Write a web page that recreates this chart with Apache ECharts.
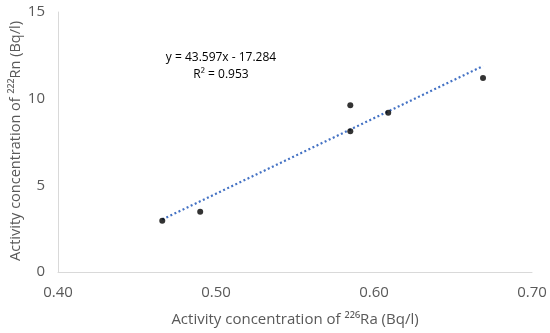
<!DOCTYPE html>
<html><head><meta charset="utf-8">
<script src="https://cdn.jsdelivr.net/npm/echarts@6/dist/echarts.min.js"></script>
<style>html,body{margin:0;padding:0;background:#fff}#c{width:550px;height:333px}</style>
</head><body><div id="c"></div>
<script>
var raValues = [0.466, 0.490, 0.585, 0.585, 0.609, 0.669];
var rnValues = [2.95, 3.48, 9.62, 8.12, 9.19, 11.19];
var trendSlope = 43.597;
var trendIntercept = -17.284;
var xTicks = [0.40, 0.50, 0.60, 0.70];
var yTicks = [0, 5, 10, 15];

var pts = raValues.map(function(x, i){ return [x, rnValues[i]]; });
var xmin = Math.min.apply(null, raValues), xmax = Math.max.apply(null, raValues);
var trend = [[xmin, trendSlope*xmin + trendIntercept], [xmax, trendSlope*xmax + trendIntercept]];
var font = "'Open Sans', 'Liberation Sans', sans-serif";
var chart = echarts.init(document.getElementById('c'));
chart.setOption({
  animation: false,
  textStyle: {fontFamily: font},
  grid: {left: 58, right: 18, top: 12, bottom: 61, containLabel: false, outerBoundsMode: 'none'},
  xAxis: {
    type: 'value', min: xTicks[0], max: xTicks[xTicks.length-1], interval: 0.1,
    axisLine: {lineStyle: {color: '#d9d9d9', width: 1}},
    axisTick: {show: false}, splitLine: {show: false},
    axisLabel: {color: '#595959', fontSize: 15, margin: 13, formatter: function(v){return v.toFixed(2);}},
    name: 'Activity concentration of \u00B2\u00B2\u2076Ra (Bq/l)', nameLocation: 'middle', nameGap: 40,
    nameTextStyle: {color: '#595959', fontSize: 15}
  },
  yAxis: {
    type: 'value', min: yTicks[0], max: yTicks[yTicks.length-1], interval: 5,
    axisLine: {show: true, lineStyle: {color: '#d9d9d9', width: 1}},
    axisTick: {show: false}, splitLine: {show: false},
    axisLabel: {color: '#595959', fontSize: 15, margin: 13}
  },
  series: [
    {type: 'line', data: trend, symbol: 'none', silent: true,
     lineStyle: {color: '#4472c4', width: 2.2, type: [2, 2.5]}, z: 1},
    {type: 'scatter', data: pts, symbol: 'circle', symbolSize: 6,
     itemStyle: {color: '#000'}, z: 2}
  ],
  graphic: [
    {type: 'text', x: 16, y: 141, rotation: Math.PI/2,
     style: {text: 'Activity concentration of \u00B2\u00B2\u00B2Rn (Bq/l)', fill: '#595959', font: '14.5px ' + font, align: 'center', verticalAlign: 'middle'}},
    {type: 'text', x: 221, y: 58, style: {text: 'y = 43.597x - 17.284', fill: '#000', font: '12px ' + font, align: 'center', verticalAlign: 'middle'}},
    {type: 'text', x: 221, y: 75, style: {text: 'R\u00B2 = 0.953', fill: '#000', font: '12px ' + font, align: 'center', verticalAlign: 'middle'}}
  ]
});
</script></body></html>
